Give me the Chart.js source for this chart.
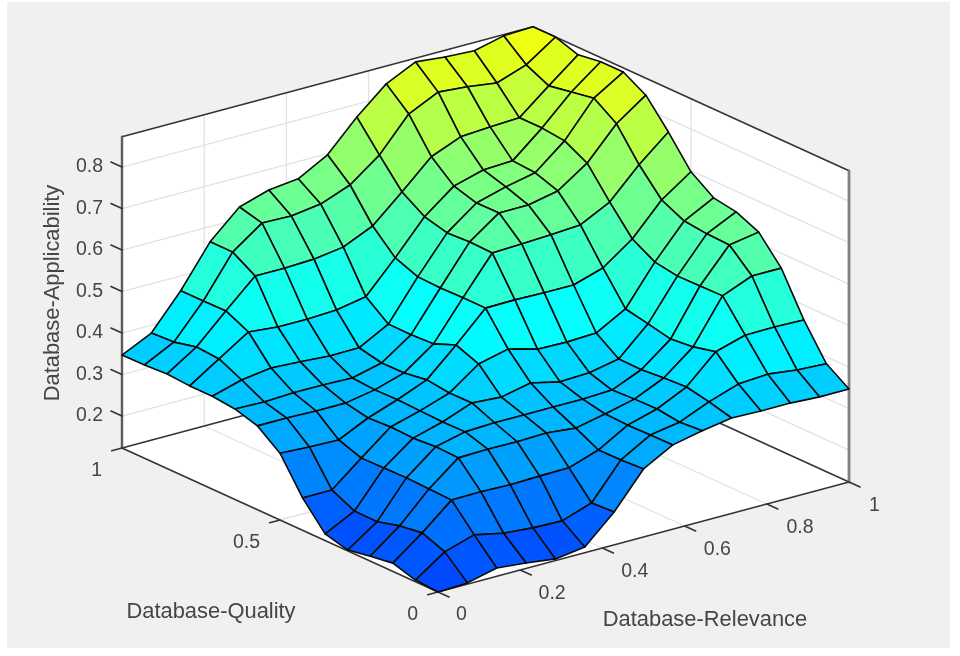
<!DOCTYPE html>
<html>
<head>
<meta charset="utf-8">
<style>
html,body{margin:0;padding:0;background:#fff;width:960px;height:656px;overflow:hidden}
#panel{position:absolute;left:7px;top:2px;width:943px;height:646px;background:#f0f0f0}
canvas{position:absolute;left:0;top:0;filter:blur(0.55px)}
</style>
<script src="https://cdn.jsdelivr.net/npm/chart.js@4/dist/chart.umd.js"></script>
</head>
<body>
<div id="panel"></div>
<canvas id="c" width="960" height="656"></canvas>
<script>
// Applicability values: one list per Relevance step, each running over the Quality steps 0..1
const relevance00=[.123,.127,.143,.135,.125,.139,.201,.284,.325,.341,.347,.347,.351,.348,.347];
const relevance01=[.126,.176,.197,.189,.174,.175,.201,.280,.325,.339,.367,.393,.397,.384,.381];
const relevance02=[.143,.198,.257,.259,.261,.260,.259,.278,.323,.342,.377,.439,.465,.464,.464];
const relevance03=[.136,.183,.258,.315,.317,.313,.315,.312,.323,.342,.373,.432,.530,.563,.563];
const relevance04=[.127,.177,.256,.317,.334,.333,.335,.337,.336,.340,.368,.432,.530,.614,.628];
const relevance05=[.137,.175,.258,.316,.337,.360,.359,.366,.358,.357,.369,.435,.533,.612,.650];
const relevance06=[.202,.199,.259,.318,.337,.355,.410,.431,.409,.406,.407,.448,.543,.622,.658];
const relevance07=[.287,.284,.283,.311,.337,.370,.427,.501,.501,.500,.502,.523,.575,.649,.697];
const relevance08=[.326,.325,.324,.326,.337,.354,.408,.502,.590,.592,.589,.603,.638,.702,.769];
const relevance09=[.341,.337,.344,.343,.340,.357,.406,.500,.593,.643,.642,.658,.704,.782,.830];
const relevance10=[.353,.367,.378,.375,.370,.371,.409,.500,.596,.643,.662,.678,.733,.816,.864];
const relevance11=[.351,.391,.444,.431,.425,.437,.448,.522,.601,.658,.677,.681,.738,.810,.857];
const relevance12=[.351,.396,.465,.535,.534,.533,.542,.573,.637,.706,.735,.741,.741,.800,.853];
const relevance13=[.347,.387,.466,.564,.614,.616,.622,.648,.708,.782,.819,.809,.799,.825,.870];
const relevance14=[.347,.383,.464,.564,.626,.650,.659,.697,.768,.832,.863,.863,.855,.873,.873];
const surfaceZ=[relevance00,relevance01,relevance02,relevance03,relevance04,relevance05,relevance06,relevance07,relevance08,relevance09,relevance10,relevance11,relevance12,relevance13,relevance14];

const relevanceTicks=[0,0.2,0.4,0.6,0.8,1];
const relevanceTickLabels=['0','0.2','0.4','0.6','0.8','1'];
const qualityTicks=[0,0.5,1];
const qualityTickLabels=['0','0.5','1'];
const applicabilityTicks=[0.2,0.3,0.4,0.5,0.6,0.7,0.8];
const applicabilityTickLabels=['0.2','0.3','0.4','0.5','0.6','0.7','0.8'];
const zMin=0.123, zMax=0.873;

// Oblique view of the three data axes onto the flat chart scales
const view={ox:438,oy:592,xx:411,xy:-110,yx:-316,yy:-144,zy:-415};
function project(r,q,a){
  return {x:view.ox+view.xx*r+view.yx*q, y:view.oy+view.xy*r+view.yy*q+view.zy*(a-zMin)};
}
// jet section used by the surface
function jet(t){
  const c=v=>Math.round(255*Math.max(0,Math.min(1,v)));
  return `rgb(${c(Math.min(4*t-1.5,4.5-4*t))},${c(Math.min(4*t-0.5,3.5-4*t))},${c(Math.min(4*t+0.5,2.5-4*t))})`;
}
const faceColor=a=>jet(0.118+0.57*a);

const inkColor='#333333', gridColor='#e2e2e2';
const poly=(pts,fillCol,line,w)=>({data:pts,showLine:true,pointRadius:0,pointHoverRadius:0,
  borderColor:line,borderWidth:w,backgroundColor:fillCol||'transparent',fill:fillCol?'shape':false,
  tension:0,borderJoinStyle:'round',borderCapStyle:'round',clip:false});
const seg=(a,b,col,w)=>poly([a,b],null,col,w);

const datasets=[];
// surface, nearest face first (first dataset paints on top)
const n=surfaceZ.length, rel=k=>k/(n-1), qua=k=>k/(n-1);
const cells=[];
for(let i=0;i<n-1;i++)for(let j=0;j<n-1;j++)cells.push([i,j]);
cells.sort((a,b)=>(a[0]+a[1])-(b[0]+b[1]));
for(const [i,j] of cells){
  const z=surfaceZ, m=(z[i][j]+z[i+1][j]+z[i+1][j+1]+z[i][j+1])/4;
  const P=[project(rel(i),qua(j),z[i][j]),project(rel(i+1),qua(j),z[i+1][j]),project(rel(i+1),qua(j+1),z[i+1][j+1]),project(rel(i),qua(j+1),z[i][j+1])];
  datasets.push(poly([...P,P[0]],faceColor(m),'#0a0a0a',1.6));
}
// box lines and ticks
const boxW=1.6;
const tickLen=0.035;
for(const a of applicabilityTicks)datasets.push(seg(project(0,1,a),project(0,1.035,a),inkColor,boxW));
for(const r of relevanceTicks)datasets.push(seg(project(r,0,zMin),project(r,-tickLen,zMin),inkColor,boxW));
for(const q of qualityTicks)datasets.push(seg(project(0,q,zMin),project(-0.025,q,zMin),inkColor,boxW));
datasets.push(seg(project(0,0,zMin),project(1,0,zMin),inkColor,boxW));
datasets.push(seg(project(0,0,zMin),project(0,1,zMin),inkColor,boxW));
datasets.push(seg(project(0,1,zMin),project(0,1,zMax),'#5c5c5c',2.4));
datasets.push(seg(project(1,0,zMin),project(1,0,zMax),'#808080',2.8));
datasets.push(seg(project(0,1,zMax),project(1,1,zMax),inkColor,boxW));
datasets.push(seg(project(1,1,zMax),project(1,0,zMax),inkColor,boxW));
datasets.push(seg(project(0,1,zMin),project(1,1,zMin),inkColor,boxW));
datasets.push(seg(project(1,0,zMin),project(1,1,zMin),inkColor,boxW));
// grid
for(const a of applicabilityTicks){
  datasets.push(seg(project(0,1,a),project(1,1,a),gridColor,1.3));
  datasets.push(seg(project(1,1,a),project(1,0,a),gridColor,1.3));
}
for(const r of relevanceTicks.slice(1,-1)){
  datasets.push(seg(project(r,1,zMin),project(r,1,zMax),gridColor,1.3));
  datasets.push(seg(project(r,0,zMin),project(r,1,zMin),gridColor,1.3));
}
for(const q of qualityTicks.slice(1,-1)){
  datasets.push(seg(project(1,q,zMin),project(1,q,zMax),gridColor,1.3));
  datasets.push(seg(project(0,q,zMin),project(1,q,zMin),gridColor,1.3));
}
// white walls and floor
const wall=(a,b,c,d)=>poly([a,b,c,d,a],'#ffffff','#ffffff',0);
datasets.push(wall(project(0,1,zMin),project(1,1,zMin),project(1,1,zMax),project(0,1,zMax)));
datasets.push(wall(project(1,1,zMin),project(1,0,zMin),project(1,0,zMax),project(1,1,zMax)));
datasets.push(wall(project(0,0,zMin),project(1,0,zMin),project(1,1,zMin),project(0,1,zMin)));

const textPlugin={id:'axisText',afterDraw(chart){
  const {ctx,scales:{x,y}}=chart;
  const at=p=>[x.getPixelForValue(p.x),y.getPixelForValue(p.y)];
  ctx.save();
  ctx.fillStyle='#454545';
  ctx.textBaseline='middle';
  ctx.font='19.5px "Liberation Sans", Arial, sans-serif';
  ctx.textAlign='right';
  applicabilityTicks.forEach((a,k)=>{const [px,py]=at(project(0,1,a));ctx.fillText(applicabilityTickLabels[k],px-19,py);});
  qualityTicks.forEach((q,k)=>{const [px,py]=at(project(0,q,zMin));ctx.fillText(qualityTickLabels[k],px-20,py+23);});
  ctx.textAlign='left';
  relevanceTicks.forEach((r,k)=>{const [px,py]=at(project(r,0,zMin));ctx.fillText(relevanceTickLabels[k],px+18+r*2,py+23+r);});
  ctx.font='21.9px "Liberation Sans", Arial, sans-serif';
  ctx.textAlign='center';
  ctx.fillText('Database-Quality',211,612);
  ctx.fillText('Database-Relevance',705,620);
  ctx.translate(53,293);ctx.rotate(-Math.PI/2);
  ctx.fillText('Database-Applicability',0,0);
  ctx.restore();
}};

new Chart(document.getElementById('c'),{
  type:'scatter',
  data:{datasets},
  options:{
    responsive:false,animation:false,devicePixelRatio:1,
    layout:{padding:0},
    events:[],
    plugins:{legend:{display:false},tooltip:{enabled:false},title:{display:false}},
    scales:{
      x:{type:'linear',min:0,max:960,display:false},
      y:{type:'linear',min:0,max:656,reverse:true,display:false}
    }
  },
  plugins:[textPlugin]
});
</script>
</body>
</html>
